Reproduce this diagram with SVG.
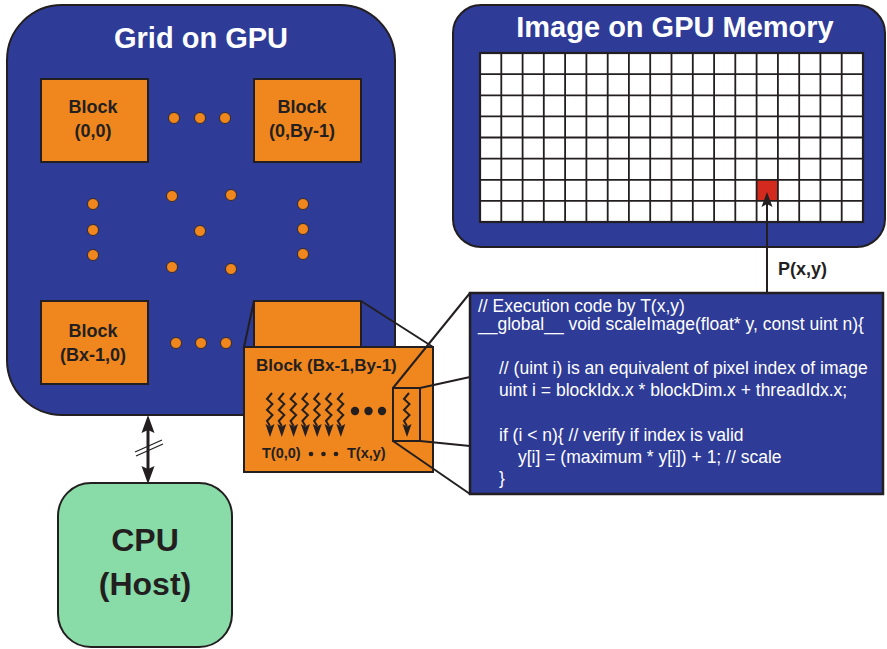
<svg xmlns="http://www.w3.org/2000/svg" xmlns:xlink="http://www.w3.org/1999/xlink" width="887" height="649" viewBox="0 0 887 649">
<style>
.panel{fill:#2e3b97;stroke:#231f20;stroke-width:2}
.blk{fill:#f0861e;stroke:#231f20;stroke-width:2}
.dot{fill:#f0861e;stroke:#231f20;stroke-width:0.8}
.ttl{font-family:"Liberation Sans",Arial,sans-serif;font-weight:bold;fill:#ffffff;font-size:29px;text-anchor:middle}
.bt{font-family:"Liberation Sans",Arial,sans-serif;font-weight:bold;fill:#231f20;font-size:18px;text-anchor:middle}
.code{font-family:"Liberation Sans",Arial,sans-serif;fill:#ffffff;font-size:17.5px}
.ln{stroke:#231f20;stroke-width:2;fill:none}
.thin{stroke:#231f20;stroke-width:1.8;fill:none}
</style>
<defs>
<g id="thread">
<path d="M2,0 L-3,6 L2.5,11 L-3,17 L2.5,22 L-3,28 L0,33" fill="none" stroke="#231f20" stroke-width="2" stroke-linejoin="miter"/>
<path d="M-4.5,31 L0,33.5 L4.5,31 L0,44 Z" fill="#231f20"/>
</g>
</defs>

<g id="grid-gpu">
<rect class="panel" x="7" y="5" width="388" height="410" rx="55" ry="55"/>
<text class="ttl" x="201" y="48">Grid on GPU</text>
<g id="grid-dots">
<circle class="dot" cx="174" cy="118" r="5.5"/><circle class="dot" cx="200" cy="118" r="5.5"/><circle class="dot" cx="225" cy="118" r="5.5"/>
<circle class="dot" cx="93" cy="204" r="5.5"/><circle class="dot" cx="93" cy="230" r="5.5"/><circle class="dot" cx="93" cy="255" r="5.5"/>
<circle class="dot" cx="303" cy="204" r="5.5"/><circle class="dot" cx="303" cy="229" r="5.5"/><circle class="dot" cx="303" cy="254" r="5.5"/>
<circle class="dot" cx="172" cy="196" r="5.5"/><circle class="dot" cx="231" cy="195" r="5.5"/><circle class="dot" cx="200" cy="231" r="5.5"/>
<circle class="dot" cx="172" cy="267" r="5.5"/><circle class="dot" cx="231" cy="269" r="5.5"/>
<circle class="dot" cx="176" cy="343" r="5.5"/><circle class="dot" cx="201" cy="343" r="5.5"/><circle class="dot" cx="226" cy="343" r="5.5"/>
</g>
</g>

<g id="block-0-0">
<rect class="blk" x="41" y="79" width="107" height="83"/>
<text class="bt" x="93" y="113">Block</text>
<text class="bt" x="93" y="137">(0,0)</text>
</g>
<g id="block-0-By-1">
<rect class="blk" x="254" y="79" width="107" height="83"/>
<text class="bt" x="302" y="113">Block</text>
<text class="bt" x="302" y="137">(0,By-1)</text>
</g>
<g id="block-Bx-1-0">
<rect class="blk" x="41" y="301" width="107" height="83"/>
<text class="bt" x="93" y="337">Block</text>
<text class="bt" x="93" y="361">(Bx-1,0)</text>
</g>
<g id="block-Bx-1-By-1">
<rect class="blk" x="254" y="301" width="107" height="83"/>
</g>

<g id="image-gpu">
<rect class="panel" x="453" y="5" width="432" height="242" rx="28" ry="28"/>
<text class="ttl" x="675" y="37">Image on GPU Memory</text>
<rect x="480" y="53" width="383" height="169" fill="#ffffff"/>
<rect x="756.6" y="179.8" width="21.3" height="21.1" fill="#d42a1e"/>
<path class="thin" d="M501.3,53V222M522.6,53V222M543.8,53V222M565.1,53V222M586.4,53V222M607.7,53V222M628.9,53V222M650.2,53V222M671.5,53V222M692.8,53V222M714.1,53V222M735.3,53V222M756.6,53V222M777.9,53V222M799.2,53V222M820.4,53V222M841.7,53V222M480,74.1H863M480,95.3H863M480,116.4H863M480,137.5H863M480,158.6H863M480,179.8H863M480,200.9H863"/>
<rect x="480" y="53" width="383" height="169" fill="none" stroke="#231f20" stroke-width="2.2"/>
</g>

<g id="block-zoom">
<rect class="blk" x="244" y="347" width="189" height="125"/>
<text x="256" y="371" font-family="'Liberation Sans',Arial,sans-serif" font-weight="bold" font-size="17" fill="#231f20">Block (Bx-1,By-1)</text>
<use xlink:href="#thread" x="270" y="393"/>
<use xlink:href="#thread" x="281.8" y="393"/>
<use xlink:href="#thread" x="293.6" y="393"/>
<use xlink:href="#thread" x="305.4" y="393"/>
<use xlink:href="#thread" x="317.2" y="393"/>
<use xlink:href="#thread" x="329" y="393"/>
<use xlink:href="#thread" x="340.8" y="393"/>
<circle cx="355" cy="411" r="4.2" fill="#231f20"/><circle cx="368.5" cy="411" r="4.2" fill="#231f20"/><circle cx="382" cy="411" r="4.2" fill="#231f20"/>
<rect x="393" y="388" width="27" height="53" fill="none" stroke="#231f20" stroke-width="2"/>
<use xlink:href="#thread" x="407" y="393"/>
<text x="262" y="458" font-family="'Liberation Sans',Arial,sans-serif" font-weight="bold" font-size="14.5" fill="#231f20">T(0,0)</text>
<circle cx="311" cy="454" r="2.3" fill="#231f20"/><circle cx="323.5" cy="454" r="2.3" fill="#231f20"/><circle cx="336" cy="454" r="2.3" fill="#231f20"/>
<text x="347" y="458" font-family="'Liberation Sans',Arial,sans-serif" font-weight="bold" font-size="14.5" fill="#231f20">T(x,y)</text>
</g>

<g id="code-box">
<rect x="470" y="293" width="413" height="201" fill="#2e3b97" stroke="#231f20" stroke-width="2.5"/>
<text class="code" x="478" y="312">// Execution code by T(x,y)</text>
<text class="code" x="478" y="330">__global__ void scaleImage(float* y, const uint n){</text>
<text class="code" x="499" y="374">// (uint i) is an equivalent of pixel index of image</text>
<text class="code" x="499" y="396">uint i = blockIdx.x * blockDim.x + threadIdx.x;</text>
<text class="code" x="499" y="441">if (i &lt; n){ // verify if index is valid</text>
<text class="code" x="518" y="463">y[i] = (maximum * y[i]) + 1; // scale</text>
<text class="code" x="499" y="484">}</text>
</g>

<g id="cpu-host">
<rect x="58" y="483" width="174" height="164" rx="33" ry="33" fill="#89dba8" stroke="#231f20" stroke-width="2"/>
<text x="145" y="551" font-family="'Liberation Sans',Arial,sans-serif" font-weight="bold" font-size="32" fill="#231f20" text-anchor="middle">CPU</text>
<text x="145" y="595" font-family="'Liberation Sans',Arial,sans-serif" font-weight="bold" font-size="32" fill="#231f20" text-anchor="middle">(Host)</text>
</g>

<g id="connectors">
<line class="ln" x1="254" y1="301" x2="244" y2="347"/>
<line class="ln" x1="361" y1="301" x2="433" y2="347"/>
<line class="ln" x1="393" y1="388" x2="470" y2="293"/>
<line class="ln" x1="420" y1="388" x2="470" y2="377"/>
<line class="ln" x1="420" y1="441" x2="470" y2="446"/>
<line class="ln" x1="393" y1="441" x2="470" y2="494"/>
<line x1="148" y1="428" x2="148" y2="470" stroke="#231f20" stroke-width="3"/>
<path d="M148,415 L154.5,433 L148,430 L141.5,433 Z" fill="#231f20"/>
<path d="M148,484 L154.5,466 L148,469 L141.5,466 Z" fill="#231f20"/>
<line x1="135" y1="452" x2="162" y2="440" stroke="#231f20" stroke-width="1.2"/>
<line x1="136" y1="456" x2="163" y2="444" stroke="#231f20" stroke-width="1.2"/>
<line x1="767" y1="293" x2="767" y2="203" stroke="#231f20" stroke-width="2"/>
<path d="M767,192 L772.5,207 L767,204 L761.5,207 Z" fill="#231f20"/>
<text x="778" y="275" font-family="'Liberation Sans',Arial,sans-serif" font-weight="bold" font-size="18" fill="#231f20">P(x,y)</text>
</g>
</svg>
